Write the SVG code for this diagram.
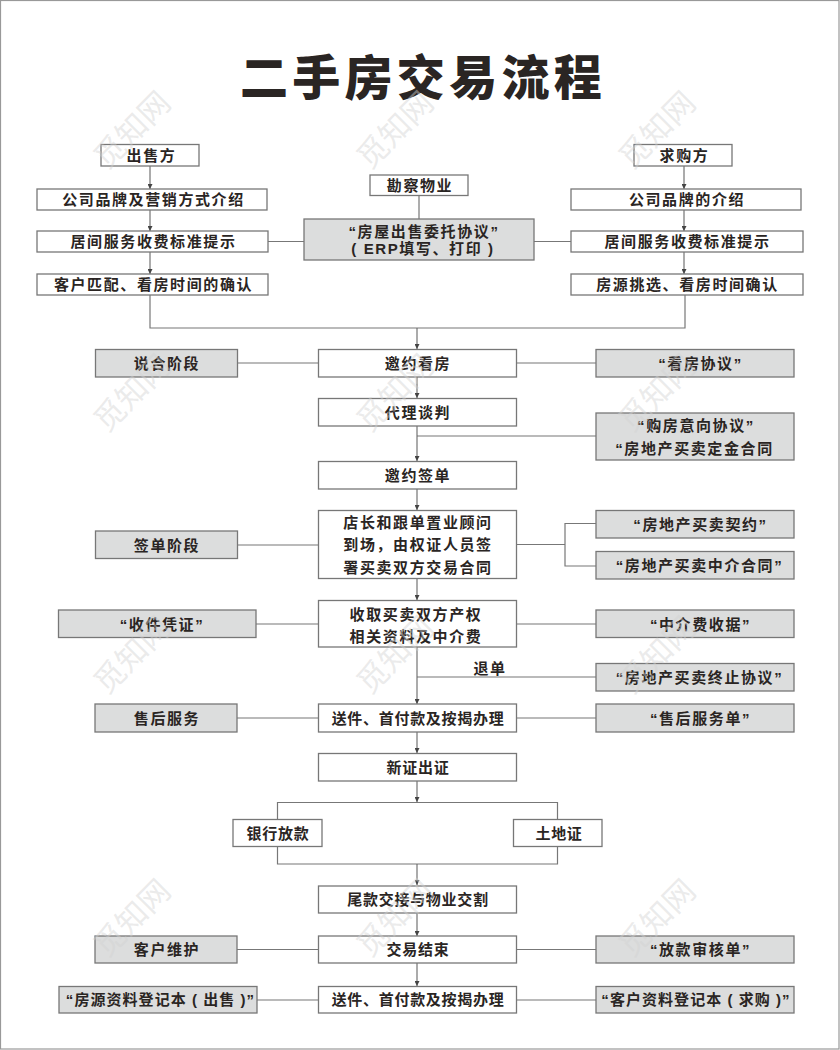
<svg xmlns="http://www.w3.org/2000/svg" width="840" height="1050" viewBox="0 0 840 1050">
<style>
text{font-family:"Liberation Sans","Noto Sans CJK SC",sans-serif;font-weight:700;font-size:15px;letter-spacing:1.6px;fill:#2a2523;text-anchor:middle}
.n{letter-spacing:.7px}
.s{letter-spacing:1.05px}
.w{fill:#fff;stroke:#777;stroke-width:1.3}
.g{fill:#dcdddd;stroke:#777;stroke-width:1.3}
.c{fill:none;stroke:#777;stroke-width:1.2}
.a{fill:none;stroke:#666;stroke-width:1.1;marker-end:url(#ah)}
.t{font-size:48px;font-weight:900;letter-spacing:4.300px;fill:#2a2523}
.m{font-size:31px;font-weight:400;letter-spacing:0;fill:#d2d2d2;fill-opacity:.45}
</style>
<defs><marker id="ah" markerUnits="userSpaceOnUse" markerWidth="6" markerHeight="5" refX="5" refY="2.5" orient="auto"><path d="M0 0L5 2.5L0 5z" fill="#444"/></marker></defs>
<rect width="840" height="1050" fill="#fff"/>
<rect x="0.5" y="0.5" width="838.500" height="1048.500" fill="none" stroke="#999" stroke-width="1.2"/>
<text class="t" x="423" y="94.500">二手房交易流程</text>
<g id="connectors">
<path class="c" d="M150 295V328H685V295M419 195V219M268 241.500H304M534 241.500H571M237.500 363H318.500M516.500 363H596M417 436H596M237.500 545H318.500M516.500 544.500H565M596 523.500H565V566H596M256 624H318.500M516.500 624H596M417 677H596M237 718H318.500M516.500 718H596M277.500 819.500V802.500H557.500V819.500M277.500 846.500V864H557.500V846.500M237 949.500H318.500M516.500 949.500H596M257 1000H318.500M516.500 1000H596"/>
<path class="a" d="M150 166V189"/><path class="a" d="M150 210V231"/><path class="a" d="M150 252V274"/>
<path class="a" d="M684 166V189"/><path class="a" d="M684 210V231"/><path class="a" d="M684 252V274"/>
<path class="a" d="M417 328V349"/><path class="a" d="M417 377V398"/><path class="a" d="M417 426V461"/><path class="a" d="M417 489V510"/><path class="a" d="M417 579V600"/><path class="a" d="M417 647V704"/><path class="a" d="M417 732V753"/><path class="a" d="M417 781V802"/><path class="a" d="M417 864V885"/><path class="a" d="M417 913V936"/><path class="a" d="M417 963V986"/>
</g>
<g id="n-seller"><rect class="w" x="101" y="144.500" width="98" height="21.500"/><text x="151.500" y="161">出售方</text></g>
<g id="n-brand1"><rect class="w" x="37" y="189" width="230" height="21"/><text x="153.500" y="205">公司品牌及营销方式介绍</text></g>
<g id="n-fee1"><rect class="w" x="37" y="231" width="231" height="21"/><text x="153.500" y="247">居间服务收费标准提示</text></g>
<g id="n-match"><rect class="w" x="37" y="274" width="231" height="21"/><text x="153.500" y="290">客户匹配、看房时间的确认</text></g>
<g id="n-survey"><rect class="w" x="370" y="175" width="98" height="20.500"/><text x="420" y="191">勘察物业</text></g>
<g id="n-entrust"><rect class="g" x="304" y="219" width="230" height="41"/><text x="424" y="236.500">“房屋出售委托协议”</text><text x="423" y="254">( ERP填写、打印 )</text></g>
<g id="n-buyer"><rect class="w" x="634" y="144.500" width="98" height="21.500"/><text x="684.500" y="161">求购方</text></g>
<g id="n-brand2"><rect class="w" x="571" y="189" width="230" height="21"/><text x="687" y="205">公司品牌的介绍</text></g>
<g id="n-fee2"><rect class="w" x="571" y="231" width="232" height="21"/><text x="687.500" y="247">居间服务收费标准提示</text></g>
<g id="n-pick"><rect class="w" x="571" y="274" width="232" height="21"/><text x="687.500" y="290">房源挑选、看房时间确认</text></g>
<g id="n-view"><rect class="w" x="318.500" y="349.500" width="198" height="27.500"/><text x="418" y="369">邀约看房</text></g>
<g id="n-talk"><rect class="w" x="318.500" y="398.500" width="198" height="27.500"/><text x="418" y="418">代理谈判</text></g>
<g id="n-sign"><rect class="w" x="318.500" y="461.500" width="198" height="27.500"/><text x="418" y="481">邀约签单</text></g>
<g id="n-manager"><rect class="w" x="318.500" y="510.500" width="198" height="68"/><text x="418" y="528">店长和跟单置业顾问</text><text x="418" y="550">到场，由权证人员签</text><text x="418" y="573">署买卖双方交易合同</text></g>
<g id="n-collect"><rect class="w" x="318.500" y="600.500" width="198" height="46.500"/><text x="416" y="620">收取买卖双方产权</text><text x="416" y="642">相关资料及中介费</text></g>
<g id="n-send1"><rect class="w" x="318.500" y="704" width="198" height="28"/><text class="n" x="418" y="724">送件、首付款及按揭办理</text></g>
<g id="n-newcert"><rect class="w" x="318.500" y="753.500" width="198" height="27.500"/><text class="n" x="418" y="773">新证出证</text></g>
<g id="n-bank"><rect class="w" x="233" y="819.500" width="89" height="27"/><text class="n" x="278" y="839">银行放款</text></g>
<g id="n-land"><rect class="w" x="513.500" y="819.500" width="88.500" height="27"/><text class="n" x="559" y="839">土地证</text></g>
<g id="n-final"><rect class="w" x="318.500" y="886" width="198" height="27"/><text class="n" x="418" y="905">尾款交接与物业交割</text></g>
<g id="n-end"><rect class="w" x="318.500" y="936" width="198" height="27"/><text class="n" x="418" y="955">交易结束</text></g>
<g id="n-send2"><rect class="w" x="318.500" y="986.500" width="198" height="26.500"/><text class="n" x="418" y="1005">送件、首付款及按揭办理</text></g>
<g id="n-l1"><rect class="g" x="95.500" y="349.500" width="142" height="27.500"/><text x="167" y="369">说合阶段</text></g>
<g id="n-l2"><rect class="g" x="95.500" y="531" width="142" height="27.500"/><text x="167" y="551">签单阶段</text></g>
<g id="n-l3"><rect class="g" x="58.500" y="610" width="197.500" height="27.500"/><text x="162" y="630">“收件凭证”</text></g>
<g id="n-l4"><rect class="g" x="95" y="704" width="142" height="28"/><text x="167" y="724">售后服务</text></g>
<g id="n-l5"><rect class="g" x="95" y="936" width="142" height="27"/><text x="167" y="955">客户维护</text></g>
<g id="n-l6"><rect class="g" x="59" y="986.500" width="198" height="26.500"/><text class="s" x="160.500" y="1005">“房源资料登记本 ( 出售 )”</text></g>
<g id="n-r1"><rect class="g" x="596" y="349.500" width="198" height="27.500"/><text x="700.500" y="369">“看房协议”</text></g>
<g id="n-r2"><rect class="g" x="596" y="413" width="198" height="47"/><text x="696" y="431">“购房意向协议”</text><text x="694.500" y="454">“房地产买卖定金合同</text></g>
<g id="n-r3"><rect class="g" x="596" y="510.500" width="198" height="27.500"/><text x="700.500" y="530">“房地产买卖契约”</text></g>
<g id="n-r4"><rect class="g" x="596" y="551.500" width="198" height="27.500"/><text x="699.500" y="571">“房地产买卖中介合同”</text></g>
<g id="n-r5"><rect class="g" x="596" y="610" width="198" height="27.500"/><text x="700.500" y="630">“中介费收据”</text></g>
<g id="n-r6"><rect class="g" x="596" y="663.500" width="198" height="27.500"/><text x="699.500" y="683">“房地产买卖终止协议”</text></g>
<g id="n-r7"><rect class="g" x="596" y="704" width="198" height="28"/><text x="700.500" y="724">“售后服务单”</text></g>
<g id="n-r8"><rect class="g" x="596" y="936" width="198" height="27"/><text x="700.500" y="955">“放款审核单”</text></g>
<g id="n-r9"><rect class="g" x="596" y="986.500" width="198" height="26.500"/><text class="s" x="696" y="1005">“客户资料登记本 ( 求购 )”</text></g>
<text x="490" y="674">退单</text>
<g id="watermarks">
<text class="m" transform="translate(132 130) rotate(-45)" y="11">觅知网</text>
<text class="m" transform="translate(395 130) rotate(-45)" y="11">觅知网</text>
<text class="m" transform="translate(657 130) rotate(-45)" y="11">觅知网</text>
<text class="m" transform="translate(132 393) rotate(-45)" y="11">觅知网</text>
<text class="m" transform="translate(395 393) rotate(-45)" y="11">觅知网</text>
<text class="m" transform="translate(657 393) rotate(-45)" y="11">觅知网</text>
<text class="m" transform="translate(132 655) rotate(-45)" y="11">觅知网</text>
<text class="m" transform="translate(395 655) rotate(-45)" y="11">觅知网</text>
<text class="m" transform="translate(657 655) rotate(-45)" y="11">觅知网</text>
<text class="m" transform="translate(132 918) rotate(-45)" y="11">觅知网</text>
<text class="m" transform="translate(395 918) rotate(-45)" y="11">觅知网</text>
<text class="m" transform="translate(657 918) rotate(-45)" y="11">觅知网</text>
</g>
</svg>
